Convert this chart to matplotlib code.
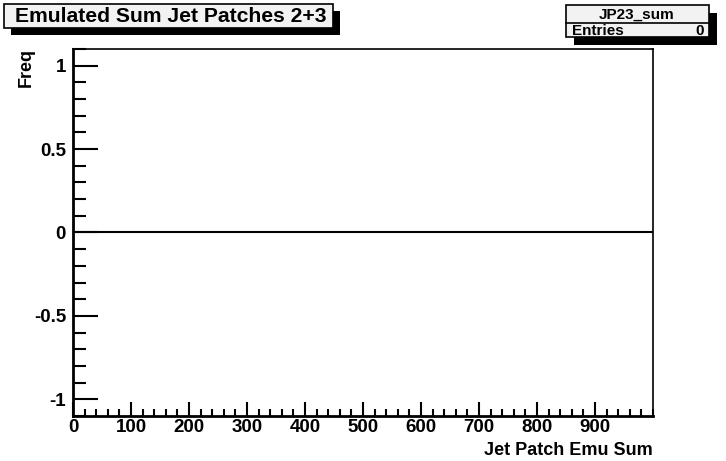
import numpy as np
import matplotlib
matplotlib.use("Agg")
import matplotlib.pyplot as plt
from matplotlib.patches import Rectangle
from matplotlib.ticker import MultipleLocator, FixedLocator

plt.rcParams['font.family'] = ['Liberation Sans', 'DejaVu Sans']
plt.rcParams['font.weight'] = 'bold'

# histogram JP23_sum, no entries
hist_name = "JP23_sum"
hist_title = "Emulated Sum Jet Patches 2+3"
x_label = "Jet Patch Emu Sum"
y_label = "Freq"
bin_edges = [0, 1000]
bin_counts = [0]
n_entries = 0
x_ticks = [0, 100, 200, 300, 400, 500, 600, 700, 800, 900]
y_ticks = [-1, -0.5, 0, 0.5, 1]
y_tick_labels = ["-1", "-0.5", "0", "0.5", "1"]

W, H = 726, 461
fig = plt.figure(figsize=(W / 100, H / 100), dpi=100)
fig.patch.set_facecolor("white")

# pad frame in pixels
left, right, top, bottom = 73, 653, 49, 416
ax = fig.add_axes([left / W, 1 - bottom / H, (right - left) / W, (bottom - top) / H])

ax.stairs(bin_counts, bin_edges, color="black", lw=1.5)
ax.set_xlim(bin_edges[0], bin_edges[-1])
ax.set_ylim(-1.1, 1.1)

ax.xaxis.set_major_locator(FixedLocator(x_ticks))
ax.xaxis.set_minor_locator(MultipleLocator(20))
ax.yaxis.set_major_locator(FixedLocator(y_ticks))
ax.set_yticklabels(y_tick_labels)
ax.yaxis.set_minor_locator(MultipleLocator(0.1))

ax.tick_params(axis="x", which="major", direction="in", length=10, width=1.5,
               labelsize=13.5, pad=2, top=False)
ax.tick_params(axis="x", which="minor", direction="in", length=5, width=1.5, top=False)
ax.tick_params(axis="y", which="major", direction="in", length=18, width=1.5,
               labelsize=13.5, pad=5, right=False)
ax.tick_params(axis="y", which="minor", direction="in", length=9, width=1.5, right=False)
for lab in ax.get_xticklabels() + ax.get_yticklabels():
    lab.set_fontweight("bold")

for side in ["left", "bottom"]:
    ax.spines[side].set_linewidth(2)
for side in ["right", "top"]:
    ax.spines[side].set_linewidth(1.2)

fig.text(right / W, 1 - 450 / H, x_label, ha="right", va="center",
         fontsize=13, fontweight="bold")
fig.text(26 / W, 1 - top / H + 0.003, y_label, ha="center", va="top",
         rotation=90, fontsize=13, fontweight="bold")


def box(x0, y0, x1, y1, sh=7, face="white"):
    # framed box with a black drop shadow, pixel coordinates
    fig.patches.append(Rectangle(((x0 + sh) / W, 1 - (y1 + sh) / H),
                                 (x1 - x0) / W, (y1 - y0) / H,
                                 transform=fig.transFigure, facecolor="black",
                                 edgecolor="none", zorder=5))
    fig.patches.append(Rectangle((x0 / W, 1 - y1 / H), (x1 - x0) / W, (y1 - y0) / H,
                                 transform=fig.transFigure, facecolor=face,
                                 edgecolor="black", lw=1.2, zorder=6))


# title box
box(4, 4, 333, 28, sh=7, face="#f2f2f2")
fig.text(15 / W, 1 - 16 / H, hist_title, ha="left", va="center",
         fontsize=15.2, fontweight="bold", zorder=7)

# stats box
box(566, 5, 709, 37, sh=8, face="#f2f2f2")
fig.add_artist(plt.Line2D([566 / W, 709 / W], [1 - 23.5 / H, 1 - 23.5 / H],
                          transform=fig.transFigure, color="black", lw=1.2, zorder=7))
fig.text(637 / W, 1 - 14.5 / H, hist_name, ha="center", va="center",
         fontsize=11, fontweight="bold", zorder=7)
fig.text(572 / W, 1 - 31 / H, "Entries", ha="left", va="center",
         fontsize=11, fontweight="bold", zorder=7)
fig.text(704 / W, 1 - 31 / H, str(n_entries), ha="right", va="center",
         fontsize=11, fontweight="bold", zorder=7)

fig.savefig("out.png", dpi=100)
